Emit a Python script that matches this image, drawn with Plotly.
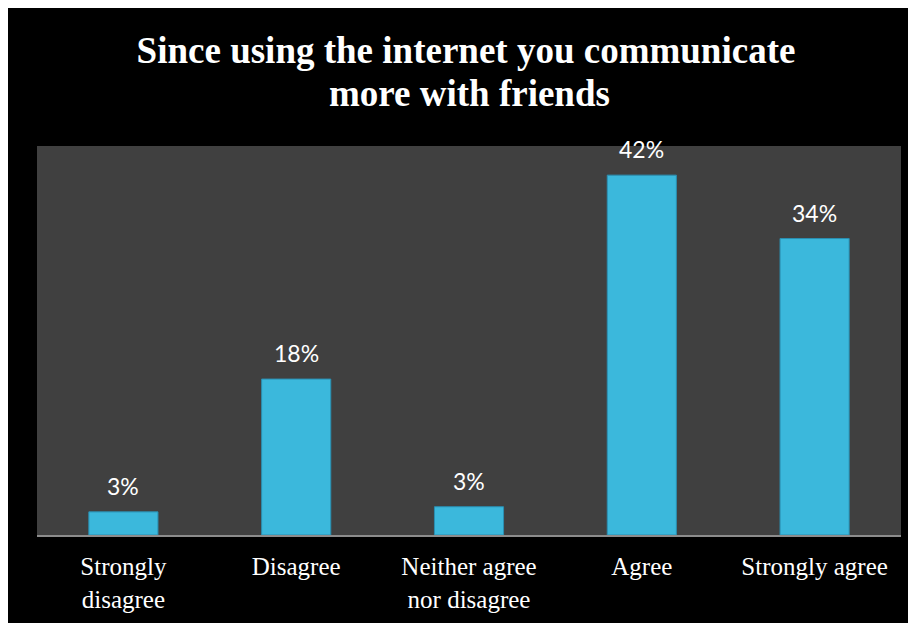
import plotly.graph_objects as go

categories = ["Strongly<br>disagree", "Disagree", "Neither agree<br>nor disagree", "Agree", "Strongly agree"]
values = [2.7, 18.2, 3.3, 42.0, 34.6]
labels = ["3%", "18%", "3%", "42%", "34%"]
title_line1 = "Since using the internet you communicate"
title_line2 = "more with friends"

# page body has an 8px margin, so the figure starts at (8, 8)
W, H = 916, 623
L, R, T, B = 29, 23, 138, 96
title_font = dict(family="Liberation Serif", size=37, color="white", weight="bold")

fig = go.Figure()
fig.add_trace(go.Bar(
    x=categories, y=values,
    marker=dict(color="#3bb8dc", line=dict(color="#2a8fb2", width=1)),
    hoverinfo="skip",
))

for c, v, t in zip(categories, values, labels):
    fig.add_annotation(x=c, y=v, text=t, showarrow=False, yanchor="bottom",
                       yshift=10, font=dict(family="Lato", size=23, color="white"))

plot_h = H - T - B
fig.add_annotation(text=title_line2, xref="paper", yref="paper", x=0.5, xanchor="center",
                   y=(H - B - 85) / plot_h, yanchor="middle", showarrow=False,
                   font=title_font)

fig.update_layout(
    width=W, height=H,
    margin=dict(l=L, r=R, t=T, b=B),
    paper_bgcolor="black",
    plot_bgcolor="#404040",
    bargap=0.6,
    showlegend=False,
    title=dict(text=title_line1, x=0.5, xanchor="center", y=1 - 42 / H, yanchor="middle",
               yref="container", font=title_font),
    xaxis=dict(showgrid=False, showline=True, linecolor="#8c8c8c", linewidth=2,
               ticks="", ticklabelstandoff=8, automargin=False,
               tickfont=dict(family="Liberation Serif", size=25, color="white")),
    yaxis=dict(range=[0, 45.4], visible=False, showgrid=False, zeroline=False,
               automargin=False),
)

fig.write_html("out.html")
